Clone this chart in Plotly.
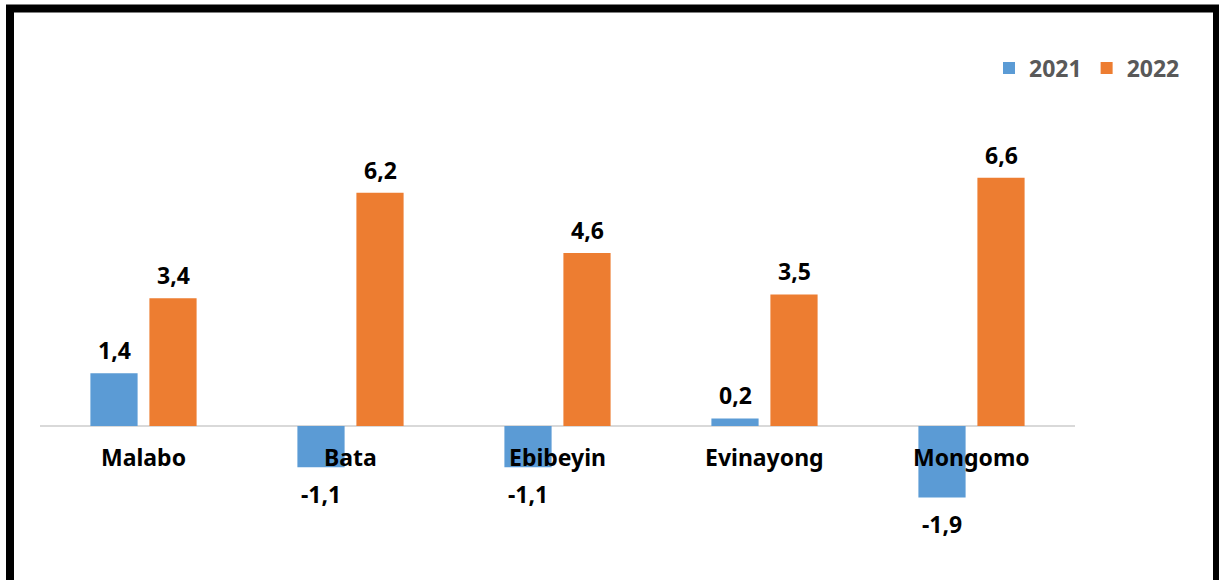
import plotly.graph_objects as go

categories = ["Malabo", "Bata", "Ebibeyin", "Evinayong", "Mongomo"]
series_names = ["2021", "2022"]
values_2021 = [1.4, -1.1, -1.1, 0.2, -1.9]
values_2022 = [3.4, 6.2, 4.6, 3.5, 6.6]
colors = ["#5B9BD5", "#ED7D31"]

FONT = "Noto Sans"
FS = 23
W, H = 1219, 580
ML, MR, MT, MB = 40, 144, 100, 20
pw = W - ML - MR
ph = H - MT - MB
ymin, ymax = -3.564, 8.670


def fmt(v):
    return ("%.1f" % v).replace(".", ",")


fig = go.Figure()
for name, vals, col in zip(series_names, [values_2021, values_2022], colors):
    fig.add_trace(go.Bar(x=categories, y=vals, name=name, marker_color=col,
                         marker_line_width=0))

annotations = []
slot = 59
for i, vals in enumerate([values_2021, values_2022]):
    off = (-0.5 + i) * slot
    for c, v in zip(categories, vals):
        annotations.append(dict(x=c, y=v, xref="x", yref="y", text=fmt(v),
                                showarrow=False, xshift=off,
                                yshift=23 if v >= 0 else -27,
                                yanchor="middle",
                                font=dict(family=FONT, size=FS, color="#000000",
                                          weight="bold")))
for c in categories:
    annotations.append(dict(x=c, y=0, xref="x", yref="y", text=c,
                            showarrow=False, yshift=-31, yanchor="middle",
                            font=dict(family=FONT, size=FS, color="#000000",
                                      weight="bold")))


def px_to_px(x):
    return (x - ML) / pw


def py_to_py(y):
    return (H - MB - y) / ph


fig.update_layout(
    width=W, height=H,
    margin=dict(l=ML, r=MR, t=MT, b=MB),
    paper_bgcolor="white", plot_bgcolor="white",
    barmode="group", bargap=0.43, bargroupgap=0.2,
    showlegend=True,
    legend=dict(orientation="h", x=px_to_px(1185), xanchor="right",
                y=py_to_py(68), yanchor="middle",
                font=dict(family=FONT, size=FS, color="#595959", weight="bold"),
                itemwidth=30, traceorder="normal"),
    xaxis=dict(showticklabels=False, showgrid=False, zeroline=False,
               showline=False, ticks=""),
    yaxis=dict(range=[ymin, ymax], showticklabels=False, showgrid=False,
               zeroline=True, zerolinecolor="#D9D9D9", zerolinewidth=2,
               showline=False, ticks=""),
    annotations=annotations,
    shapes=[dict(type="rect", xref="paper", yref="paper",
                 x0=px_to_px(10), x1=px_to_px(1217),
                 y0=py_to_py(8.5), y1=py_to_py(600),
                 line=dict(color="black", width=8), layer="above")],
)

fig.write_html("out.html", config={"displayModeBar": False},
               post_script="document.body.style.margin='0';document.body.style.overflow='hidden';")
